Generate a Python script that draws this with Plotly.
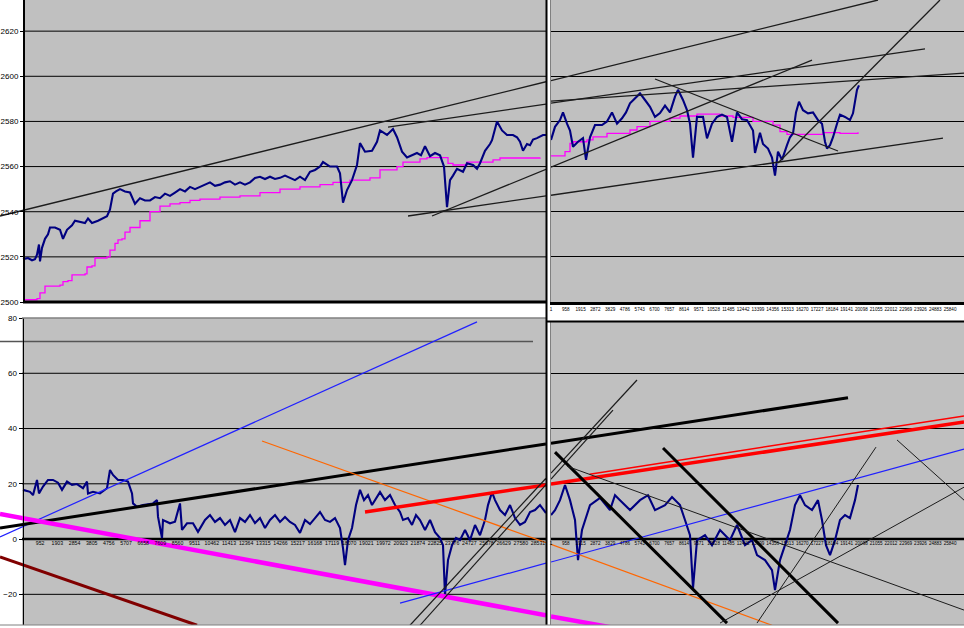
import plotly.graph_objects as go

# ---------------- TOP-LEFT panel : price + stepped average ----------------
tl_idx = [0, 277, 499, 665, 776, 886, 942, 1053, 1219, 1385, 1496, 1773, 2050, 2216, 2438, 2715, 2881, 3158,
          3435, 3601, 3823, 4155, 4432, 4654, 4820, 4986, 5152, 5374, 5651, 5928, 6205, 6482, 6759, 7036,
          7313, 7590, 7867, 8144, 8421, 8698, 8975, 9252, 9529, 9806, 10083, 10360, 10637, 10914, 11191,
          11468, 11745, 12022, 12299, 12576, 12853, 13130, 13407, 13684, 13961, 14238, 14515, 14792, 15069,
          15346, 15623, 15900, 16177, 16454, 16620, 17008, 17396, 17562, 17728, 17950, 18227, 18504, 18670,
          18947, 19335, 19612, 19778, 20166, 20498, 20720, 20997, 21274, 21551, 21828, 22049, 22271, 22548,
          22825, 23102, 23323, 23490, 23656, 23822, 24044, 24376, 24598, 24930, 25152, 25318, 25595, 25872,
          25983, 26260, 26537, 26814, 27146, 27368, 27534, 27700, 27922, 28088, 28254, 28476, 28808, 28974]
tl_price = [2519, 2519.5, 2518.5, 2519, 2521, 2525.5, 2518, 2524, 2528, 2530, 2533, 2533, 2532, 2528, 2532,
            2534, 2536, 2535.5, 2535, 2537, 2535, 2536, 2537, 2538, 2541, 2548, 2549, 2550, 2549, 2548.5,
            2543.5, 2546, 2545, 2545, 2546.5, 2546, 2548, 2547, 2548.5, 2550, 2549, 2551, 2550, 2551, 2552,
            2553, 2551.5, 2552, 2553, 2553.5, 2552, 2553, 2552, 2553, 2555, 2555.5, 2554.5, 2555.5, 2554.5,
            2555, 2556, 2555, 2554, 2555.5, 2554, 2557.7, 2558.5, 2560, 2562, 2560, 2560, 2557, 2544, 2549.6,
            2554, 2560.7, 2570.4, 2566.6, 2567, 2571, 2576, 2574, 2576.6, 2573, 2566.6, 2564, 2565, 2566, 2565,
            2569, 2564.6, 2566, 2565, 2560, 2542, 2554, 2556, 2559, 2557.7, 2561.5, 2560.7, 2559, 2561.5, 2567,
            2570, 2571.7, 2580, 2576, 2574, 2574, 2573, 2571, 2567, 2570, 2569.5, 2572, 2572.6, 2574, 2574]
tl_avg_idx = [0, 776, 942, 1219, 2050, 2216, 2493, 2715, 3435, 3546, 3823, 3989, 4654, 4820, 5097, 5263, 5485,
              5651, 5928, 6482, 7036, 7590, 8144, 8698, 9252, 9806, 10914, 12022, 13130, 14238, 15346, 16454,
              17174, 18116, 19224, 19778, 20720, 21052, 21994, 22382, 23268, 23545, 23822, 24376, 24598, 26038,
              26426, 28642]
tl_avg = [2501, 2501.5, 2504, 2507, 2507.5, 2509, 2509.5, 2512, 2512.5, 2515.5, 2516, 2519.5, 2520, 2523, 2526,
          2527.5, 2528, 2531, 2533, 2536, 2540, 2542.5, 2543.5, 2544, 2545, 2545.6, 2546.5, 2547, 2548.5, 2550,
          2551, 2552, 2553, 2554, 2555, 2558.5, 2560, 2562, 2563.4, 2564, 2564, 2561.4, 2560.7, 2560.7, 2562,
          2563, 2563.8, 2564]
tl_trend_x = [[-1274, 28974], [20221, 28974], [21329, 28974], [22659, 28974]]
tl_trend_y = [[2538.1, 2597.6], [2577.5, 2587.7], [2538.1, 2547.0], [2538.1, 2558.8]]

# ---------------- TOP-RIGHT panel ----------------
tr_idx = [0, 259, 583, 777, 1036, 1230, 1425, 1748, 2072, 2266, 2525, 2849, 3302, 3626, 3950, 4274, 4597, 4856,
          5115, 5439, 5763, 6087, 6410, 6734, 7058, 7382, 7705, 8029, 8223, 8547, 8806, 9000, 9195, 9454, 9842,
          10101, 10425, 10749, 11072, 11396, 11720, 12044, 12367, 12691, 13080, 13209, 13533, 13727, 14051,
          14310, 14504, 14698, 14957, 15281, 15475, 15670, 15864, 16058, 16317, 16641, 16965, 17288, 17547,
          17742, 17871, 18066, 18260, 18519, 18713, 19037, 19360, 19555, 19684, 19814, 19943]
tr_price = [2571.8, 2577.6, 2580.6, 2584, 2579, 2576, 2568.8, 2571, 2572.6, 2563, 2573, 2578.4, 2578.4, 2580,
            2584, 2579, 2581.4, 2584, 2588, 2590, 2592.4, 2589.5, 2586.5, 2582, 2583.7, 2587, 2584, 2591, 2594,
            2589.5, 2585, 2579, 2564, 2582, 2582, 2572.5, 2579, 2582, 2583, 2582, 2571, 2584, 2581, 2580.6,
            2576, 2566, 2575, 2570, 2568, 2564, 2556, 2566.6, 2563, 2569.5, 2573, 2574.7, 2584, 2588.7, 2585,
            2583.6, 2584, 2580.6, 2579, 2571, 2568, 2569.5, 2573, 2579, 2583, 2582, 2580.6, 2583.6, 2589.5,
            2594, 2596]
tr_avg_idx = [0, 583, 907, 1230, 1425, 2331, 2720, 3626, 5115, 5569, 6410, 7705, 8353, 9454, 10943, 11785, 13080,
              14375, 14828, 15281, 17612, 18713, 19878]
tr_avg = [2564.7, 2564.7, 2566.6, 2570.3, 2571, 2571.8, 2573.2, 2574.7, 2576.2, 2577.7, 2580, 2581.5, 2582.4,
          2583.2, 2582.4, 2581.8, 2580, 2578.4, 2575.5, 2574.3, 2575, 2574.7, 2575.2]
tr_trend_x = [[0, 21173], [0, 24217], [0, 26742], [0, 25382], [0, 16900], [6734, 18583], [14698, 25188]]
tr_trend_y = [[2598.1, 2633.8], [2588.1, 2612.1], [2589.0, 2601.4], [2547.3, 2572.6], [2559.7, 2607.2],
              [2598.8, 2566.9], [2561.6, 2633.8]]

# ---------------- BOTTOM-LEFT panel : oscillator ----------------
bl_idx = [0, 388, 554, 776, 886, 1108, 1385, 1662, 1939, 2161, 2438, 2715, 2992, 3324, 3546, 3601, 3878, 4266,
          4654, 4820, 4986, 5263, 5540, 5817, 6039, 6094, 6316, 6648, 7202, 7424, 7479, 7701, 7756, 8144, 8421,
          8698, 8809, 9086, 9418, 9695, 10083, 10360, 10637, 10914, 11191, 11468, 11745, 12022, 12299, 12576,
          12853, 13130, 13407, 13684, 13961, 14238, 14515, 14792, 15069, 15346, 15623, 15900, 16177, 16454,
          16731, 17008, 17285, 17562, 17728, 17839, 18005, 18227, 18449, 18670, 18892, 19114, 19335, 19557,
          19778, 20055, 20332, 20609, 20886, 21052, 21329, 21551, 21772, 21994, 22271, 22548, 22825, 23102,
          23268, 23379, 23545, 23767, 23988, 24210, 24487, 24764, 25041, 25318, 25595, 25761, 25983, 26149,
          26426, 26703, 26980, 27257, 27534, 27811, 28088, 28365, 28642, 28974]
bl_osc = [17.8, 17.1, 15.9, 21.4, 16.5, 19, 21.4, 21.4, 20.4, 17.8, 20.8, 19.6, 19.9, 18.4, 20.8, 16.5, 17.1,
          16.5, 18.4, 25, 23.2, 21.4, 21.4, 20.8, 16.5, 12.9, 11.7, 12.3, 12.9, 14.1, 8.1, 0.4, 6.9, 5.7, 6.3,
          12.9, 3.3, 5.7, 5.7, 2.6, 6.9, 8.7, 6.2, 7.6, 5.1, 6.9, 2.5, 7.6, 6.2, 8.7, 5.8, 7.6, 4.0, 6.9, 8.7,
          6.2, 8.0, 6.2, 5.1, 2.2, 6.9, 5.4, 7.6, 9.8, 6.9, 6.2, 7.6, 4.0, -3.3, -9.4, -0.4, 4.0, 12.3, 17.8,
          14.1, 15.9, 12.3, 14.9, 17.0, 14.1, 15.9, 12.3, 9.8, 6.9, 7.6, 5.1, 8.7, 6.9, 3.3, 6.9, 2.5, 0.4,
          -2.2, -20.3, -7.6, -2.2, 0.4, -0.4, 3.3, -0.4, 5.1, 1.4, 6.9, 12.3, 17.0, 14.1, 10.5, 8.7, 12.3, 7.6,
          5.1, 6.2, 9.8, 10.5, 12.3, 9.4]
bl_trend_x = [[-1274, 28254], [-1274, 25152], [-1274, 28974], [-1274, 28974], [-1274, 9640], [13241, 28974],
              [18947, 28974], [20886, 28974], [21440, 28974], [21994, 28974]]
bl_trend_y = [[71.5, 71.5], [0.8, 78.6], [4.0, 34.4], [9.1, -27.6], [-6.5, -31.2], [35.5, -1.3],
              [9.8, 19.6], [-23.2, -8.7], [-31.2, 22.0], [-31.2, 19.7]]

# ---------------- BOTTOM-RIGHT panel ----------------
br_idx = [0, 259, 583, 907, 1230, 1554, 1748, 2007, 2525, 3173, 3820, 4144, 4468, 4792, 5115, 5763, 6281, 6734,
          7382, 7835, 8353, 8676, 9000, 9195, 9454, 9972, 10425, 10943, 11590, 12044, 12562, 13015, 13339, 13857,
          14310, 14504, 14828, 15152, 15475, 15799, 16123, 16446, 16900, 17288, 17547, 17806, 18066, 18389,
          18713, 19037, 19360, 19684, 19878]
br_osc = [8.7, 10.5, 14.1, 19.6, 14.1, 6.9, -7.6, 3.3, 12.3, 14.9, 10.5, 15.9, 14.1, 12.3, 10.5, 14.1, 15.9,
          10.5, 12.3, 15.2, 12.3, 6.9, 1.4, -17.8, -0.4, 1.4, -2.2, 3.3, -0.4, 5.1, -2.2, -0.4, -5.8, -7.6,
          -11.2, -18.5, -7.6, -2.2, 3.3, 12.3, 15.9, 12.3, 10.5, 14.1, 6.9, -2.2, -5.8, -0.4, 6.9, 8.7, 7.6,
          14.1, 19.6]
br_trend_x = [[0, 19231], [0, 4144], [0, 14310], [0, 26742], [2500, 26742], [0, 26742], [0, 5569], [0, 4014],
              [259, 11396], [7252, 18583], [1036, 26742], [10943, 26742], [13339, 21044], [22404, 26742]]
br_trend_y = [[34.7, 51.2], [-28.0, -32.2], [-1.9, -31.2], [19.9, 42.4], [23.5, 44.6], [-8.3, 32.6],
              [23.9, 57.6], [21.7, 46.7], [31.5, -30.4], [33.0, -30.4], [26.4, -25.7], [-30.4, 18.8],
              [-30.4, 33.3], [35.9, 14.1]]

tl_grid = [2520, 2540, 2560, 2580, 2600, 2620]
tl_ticks = [2500, 2520, 2540, 2560, 2580, 2600, 2620]
bl_grid = [-20, 20, 40, 60]
bl_ticks = [-20, 0, 20, 40, 60, 80]
tr_ticks = [1 + 957 * k for k in range(28)]
blx_ticks = [1 + 951 * k for k in range(1, 31)]
br_ticks = [1 + 957 * k for k in range(28)]

# ---------------- styles ----------------
NAVY = "#000080"
MAG = "#FF00FF"
DARK = "#1c1c1c"
tl_styles = [(DARK, 1.3)] * 4
tr_styles = [(DARK, 1.3)] * 7
bl_styles = [("#555555", 1.5), ("#2020FF", 1.2), ("#000000", 3), (MAG, 4.5), ("#800000", 3),
             ("#FF6600", 1.2), ("#FF0000", 3.5), ("#2020FF", 1.2), (DARK, 1.2), (DARK, 1.2)]
br_styles = [("#000000", 3), (MAG, 4.5), ("#FF6600", 1.2), ("#FF0000", 3.5), ("#FF0000", 1.5),
             ("#2020FF", 1.2), (DARK, 1.2), (DARK, 1.2), ("#000000", 3), ("#000000", 3),
             (DARK, 1.0), (DARK, 1.0), (DARK, 1.0), (DARK, 1.0)]

fig = go.Figure()


def add_lines(xs, ys, styles, xa, ya):
    for (x, y), (c, w) in zip(zip(xs, ys), styles):
        fig.add_trace(go.Scatter(x=x, y=y, mode="lines", line=dict(color=c, width=w),
                                 xaxis=xa, yaxis=ya, hoverinfo="skip", showlegend=False))


fig.add_trace(go.Scatter(x=tl_avg_idx, y=tl_avg, mode="lines", line=dict(color=MAG, width=1.3, shape="hv"),
                         xaxis="x", yaxis="y", showlegend=False))
fig.add_trace(go.Scatter(x=tl_idx, y=tl_price, mode="lines", line=dict(color=NAVY, width=2.1),
                         xaxis="x", yaxis="y", showlegend=False))
add_lines(tl_trend_x, tl_trend_y, tl_styles, "x", "y")
fig.add_trace(go.Scatter(x=tr_avg_idx, y=tr_avg, mode="lines", line=dict(color=MAG, width=1.3, shape="hv"),
                         xaxis="x2", yaxis="y2", showlegend=False))
fig.add_trace(go.Scatter(x=tr_idx, y=tr_price, mode="lines", line=dict(color=NAVY, width=2.1),
                         xaxis="x2", yaxis="y2", showlegend=False))
add_lines(tr_trend_x, tr_trend_y, tr_styles, "x2", "y2")
fig.add_trace(go.Scatter(x=bl_idx, y=bl_osc, mode="lines", line=dict(color=NAVY, width=2.1),
                         xaxis="x3", yaxis="y3", showlegend=False))
add_lines(bl_trend_x, bl_trend_y, bl_styles, "x3", "y3")
fig.add_trace(go.Scatter(x=br_idx, y=br_osc, mode="lines", line=dict(color=NAVY, width=2.1),
                         xaxis="x4", yaxis="y4", showlegend=False))
add_lines(br_trend_x, br_trend_y, br_styles, "x4", "y4")

W, H = 964, 628
L_END = 546 / W
R_START = 551 / W
TOP_BOT = 326 / H
BL_TOP = 310 / H
BR_TOP = 306 / H
BOT = 3 / H
ZERO_Y = (H - 539) / H

tick_font = dict(family="Liberation Sans, Arial", size=8, color="black")
small_font = dict(family="Liberation Sans, Arial", size=4.6, color="black")
bl_small_font = dict(family="Liberation Sans, Arial", size=5.2, color="black")
common = dict(automargin=False, zeroline=False)

fig.update_layout(
    template="none",
    width=W, height=H, margin=dict(l=0, r=0, t=0, b=0, pad=0, autoexpand=False),
    paper_bgcolor="white", plot_bgcolor="#C0C0C0", showlegend=False,
    xaxis=dict(domain=[0, L_END], range=[-1274, 28974], anchor="y", showgrid=False,
               showticklabels=False, ticks="", showline=False, **common),
    yaxis=dict(domain=[TOP_BOT, 1], range=[2500, 2633.8], anchor="free", position=23 / W, showgrid=False,
               tickvals=tl_ticks, ticks="outside", ticklen=3, tickcolor="black",
               showline=True, linecolor="black", linewidth=1.5, tickfont=tick_font, **common),
    xaxis2=dict(domain=[R_START, 1], range=[0, 26742], anchor="y2", showgrid=False,
                showline=True, linecolor="black", linewidth=3, tickvals=tr_ticks,
                ticktext=[str(t) for t in tr_ticks], tickfont=small_font, ticks="", tickangle=0, **common),
    yaxis2=dict(domain=[TOP_BOT, 1], range=[2500, 2633.8], anchor="x2", showticklabels=False,
                tickvals=tl_grid, showgrid=True, gridcolor="black", gridwidth=1, showline=True,
                linecolor="#808080", linewidth=1, ticks="", **common),
    xaxis3=dict(domain=[0, L_END], range=[-1274, 28974], anchor="free", position=ZERO_Y, showgrid=False,
                showline=False, tickvals=blx_ticks, ticktext=[str(t) for t in blx_ticks],
                tickfont=bl_small_font, ticks="", tickangle=0, **common),
    yaxis3=dict(domain=[BOT, BL_TOP], range=[-31.1, 80], anchor="free", position=22.5 / W, showgrid=False,
                tickvals=bl_ticks, ticks="outside", ticklen=4, tickcolor="black",
                showline=True, linecolor="black", linewidth=1.5, tickfont=tick_font, **common),
    xaxis4=dict(domain=[R_START, 1], range=[0, 26742], anchor="free", position=ZERO_Y, showgrid=False,
                showline=False, tickvals=br_ticks, ticktext=[str(t) for t in br_ticks],
                tickfont=small_font, ticks="", tickangle=0, **common),
    yaxis4=dict(domain=[BOT, BR_TOP], range=[-31.1, 78.6], anchor="x4", showticklabels=False,
                tickvals=bl_grid, showgrid=True, gridcolor="black", gridwidth=1, showline=True,
                linecolor="#808080", linewidth=1, ticks="", **common),
)

shapes = [
    dict(type="rect", xref="x domain", yref="y domain", x0=0, x1=23 / 546, y0=0, y1=1,
         fillcolor="white", line=dict(width=0), layer="below"),
    dict(type="rect", xref="x3 domain", yref="y3 domain", x0=0, x1=22 / 546, y0=0, y1=1,
         fillcolor="white", line=dict(width=0), layer="below"),
]
for g in tl_grid:
    shapes.append(dict(type="line", xref="x domain", yref="y", x0=23 / 546, x1=1, y0=g, y1=g,
                       line=dict(color="black", width=1), layer="below"))
for g in bl_grid:
    shapes.append(dict(type="line", xref="x3 domain", yref="y3", x0=22 / 546, x1=1, y0=g, y1=g,
                       line=dict(color="black", width=1), layer="below"))
shapes += [
    dict(type="line", xref="x3 domain", yref="y3", x0=22 / 546, x1=1, y0=0, y1=0,
         line=dict(color="black", width=2.5), layer="below"),
    dict(type="line", xref="x4 domain", yref="y4", x0=0, x1=1, y0=0, y1=0,
         line=dict(color="black", width=2.5), layer="below"),
    dict(type="line", xref="x domain", yref="y domain", x0=23 / 546, x1=1, y0=0, y1=0,
         line=dict(color="black", width=3), layer="above"),
    dict(type="line", xref="x3 domain", yref="y3 domain", x0=22 / 546, x1=1, y0=1, y1=1,
         line=dict(color="#808080", width=1.5), layer="above"),
    dict(type="line", xref="paper", yref="paper", x0=546.5 / W, x1=546.5 / W, y0=BOT, y1=1,
         line=dict(color="black", width=2), layer="above"),
    dict(type="line", xref="paper", yref="paper", x0=547 / W, x1=1, y0=306.5 / H, y1=306.5 / H,
         line=dict(color="black", width=2), layer="above"),
    dict(type="line", xref="paper", yref="paper", x0=0, x1=1, y0=BOT, y1=BOT,
         line=dict(color="#808080", width=1), layer="above"),
]
fig.update_layout(shapes=shapes)

# page body has a default 8px margin; remove it so the figure sits at the window origin
fig.write_html("out.html", config={"displayModeBar": False, "staticPlot": True},
               post_script="document.body.style.margin='0';document.body.style.overflow='hidden';")
